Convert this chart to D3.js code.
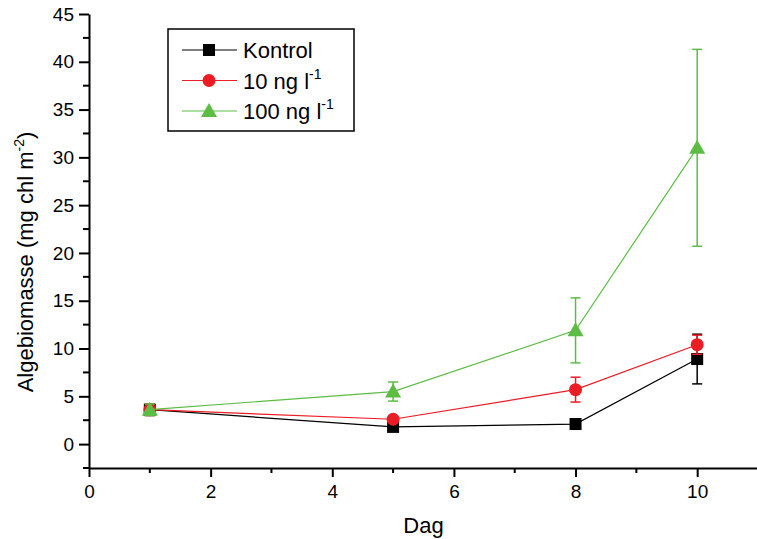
<!DOCTYPE html>
<html>
<head>
<meta charset="utf-8">
<script src="https://cdn.jsdelivr.net/npm/d3@7"></script>
<style>
  body { margin: 0; background: #fff; }
  text { font-family: "Liberation Sans", Arial, sans-serif; fill: #000; }
</style>
</head>
<body>
<div id="chart"></div>
<script>
// data
var days = [1, 5, 8, 10];
var kontrol = [3.6, 1.8, 2.1, 8.9];
var kontrolErr = [0.6, 0.2, 0.2, 2.6];
var ng10 = [3.6, 2.6, 5.7, 10.4];
var ng10Err = [0.6, 0.2, 1.3, 1.0];
var ng100 = [3.6, 5.5, 11.9, 31.0];
var ng100Err = [0.6, 1.0, 3.4, 10.3];
var xTicks = [0, 2, 4, 6, 8, 10];
var yTicks = [0, 5, 10, 15, 20, 25, 30, 35, 40, 45];

var width = 757, height = 539;

var series = [
    {name: "Kontrol", sup: null, values: kontrol, err: kontrolErr, color: "#000000", shape: "square"},
    {name: "10 ng l", sup: "-1", values: ng10, err: ng10Err, color: "#ec1c24", shape: "circle"},
    {name: "100 ng l", sup: "-1", values: ng100, err: ng100Err, color: "#5cbc44", shape: "triangle"}
];

var x = d3.scaleLinear().domain([0, 11]).range([89, 758]);
var y = d3.scaleLinear().domain([-2.5, 45]).range([468, 14]);

var svg = d3.select("#chart").append("svg")
    .attr("width", width)
    .attr("height", height);

// axes
var xAxis = d3.axisBottom(x).tickValues(xTicks).tickSize(9).tickSizeOuter(0).tickPadding(8);
var yAxis = d3.axisLeft(y).tickValues(yTicks).tickSize(10).tickSizeOuter(0).tickPadding(5);

var gx = svg.append("g")
    .attr("transform", "translate(0," + y(-2.5) + ")")
    .call(xAxis);
var gy = svg.append("g")
    .attr("transform", "translate(" + x(0) + ",0)")
    .call(yAxis);

[gx, gy].forEach(function(g) {
    g.select(".domain").attr("stroke", "#000").attr("stroke-width", 2);
    g.selectAll(".tick line").attr("stroke", "#000").attr("stroke-width", 2);
    g.selectAll(".tick text").style("font-size", "19px").attr("fill", "#000");
});

// minor ticks
svg.append("g").selectAll("line")
    .data(d3.range(1, 11, 2))
    .enter().append("line")
    .attr("x1", function(d) { return x(d); })
    .attr("x2", function(d) { return x(d); })
    .attr("y1", y(-2.5))
    .attr("y2", y(-2.5) + 5)
    .attr("stroke", "#000").attr("stroke-width", 2);

svg.append("g").selectAll("line")
    .data(d3.range(-2.5, 45, 5))
    .enter().append("line")
    .attr("x1", x(0))
    .attr("x2", x(0) - 6)
    .attr("y1", function(d) { return y(d); })
    .attr("y2", function(d) { return y(d); })
    .attr("stroke", "#000").attr("stroke-width", 2);

// axis titles
svg.append("text")
    .attr("x", x(5.5))
    .attr("y", 533)
    .attr("text-anchor", "middle")
    .style("font-size", "22px")
    .text("Dag");

var yl = svg.append("text")
    .attr("transform", "translate(33,262) rotate(-90)")
    .attr("text-anchor", "middle")
    .style("font-size", "22px");
yl.append("tspan").text("Algebiomasse (mg chl m");
yl.append("tspan").attr("dy", -9).style("font-size", "14px").text("-2");
yl.append("tspan").attr("dy", 9).text(")");

function drawMarker(g, shape, color) {
    if (shape === "square") {
        g.append("rect").attr("x", -6).attr("y", -6).attr("width", 12).attr("height", 12).attr("fill", color);
    } else if (shape === "circle") {
        g.append("circle").attr("r", 6.5).attr("fill", color);
    } else {
        g.append("path").attr("d", "M0,-8L8,6L-8,6Z").attr("fill", color);
    }
}

var line = d3.line()
    .x(function(d) { return x(d[0]); })
    .y(function(d) { return y(d[1]); });

series.forEach(function(s) {
    var pts = days.map(function(d, i) { return [d, s.values[i], s.err[i]]; });
    var g = svg.append("g");

    g.append("path")
        .attr("d", line(pts))
        .attr("fill", "none")
        .attr("stroke", s.color)
        .attr("stroke-width", 1.2);

    var eb = g.selectAll(".err").data(pts).enter().append("g");
    eb.append("line")
        .attr("x1", function(d) { return x(d[0]); })
        .attr("x2", function(d) { return x(d[0]); })
        .attr("y1", function(d) { return y(d[1] - d[2]); })
        .attr("y2", function(d) { return y(d[1] + d[2]); })
        .attr("stroke", s.color).attr("stroke-width", 1.5);
    [-1, 1].forEach(function(sg) {
        eb.append("line")
            .attr("x1", function(d) { return x(d[0]) - 5; })
            .attr("x2", function(d) { return x(d[0]) + 5; })
            .attr("y1", function(d) { return y(d[1] + sg * d[2]); })
            .attr("y2", function(d) { return y(d[1] + sg * d[2]); })
            .attr("stroke", s.color).attr("stroke-width", 1.5);
    });

    pts.forEach(function(d) {
        var m = g.append("g").attr("transform", "translate(" + x(d[0]) + "," + y(d[1]) + ")");
        drawMarker(m, s.shape, s.color);
    });
});

// legend
var legend = svg.append("g").attr("transform", "translate(168,29)");
legend.append("rect")
    .attr("width", 186).attr("height", 102)
    .attr("fill", "#fff").attr("stroke", "#000").attr("stroke-width", 1.5);

series.forEach(function(s, i) {
    var row = legend.append("g").attr("transform", "translate(0," + (21 + i * 30.5) + ")");
    row.append("line").attr("x1", 14).attr("x2", 69).attr("stroke", s.color).attr("stroke-width", 1.2);
    var m = row.append("g").attr("transform", "translate(41,0)");
    drawMarker(m, s.shape, s.color);
    var t = row.append("text").attr("x", 75).attr("y", 8).style("font-size", "22px");
    t.append("tspan").text(s.name);
    if (s.sup) {
        t.append("tspan").attr("dy", -10).style("font-size", "14px").text(s.sup);
    }
});
</script>
</body>
</html>
